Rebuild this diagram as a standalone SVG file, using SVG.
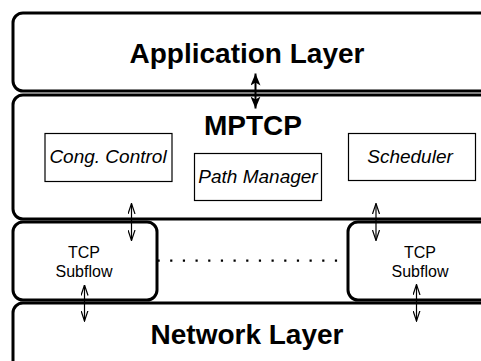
<svg xmlns="http://www.w3.org/2000/svg" width="481" height="361" viewBox="0 0 481 361">
<style>
.layer{fill:#fff;stroke:#000;stroke-width:3}
.mod{fill:#fff;stroke:#000;stroke-width:1.2}
.big{font-family:"Liberation Sans",Arial,sans-serif;font-weight:bold;font-size:28px;fill:#000;text-anchor:middle}
.it{font-family:"Liberation Sans",Arial,sans-serif;font-style:italic;font-size:19px;fill:#000;text-anchor:middle}
.sm{font-family:"Liberation Sans",Arial,sans-serif;font-size:16px;fill:#000;text-anchor:middle}
.thick{stroke:#000;stroke-width:2;fill:none}
.thin{stroke:#000;stroke-width:1.2;fill:none}
</style>
<defs>
<marker id="fh" viewBox="0 0 12 10" markerWidth="12" markerHeight="10" refX="12" refY="5" orient="auto-start-reverse" markerUnits="userSpaceOnUse">
<path d="M0,0 L12,5 L0,10 L3,5 Z" fill="#000"/>
</marker>
<marker id="oh" viewBox="0 0 11 8" markerWidth="11" markerHeight="8" refX="10.5" refY="4" orient="auto-start-reverse" markerUnits="userSpaceOnUse">
<path d="M0,0.5 L10.5,4 L0,7.5" fill="none" stroke="#000" stroke-width="1.2"/>
</marker>
</defs>
<g id="app-layer">
<rect class="layer" x="13" y="13" width="520" height="78" rx="10"/>
<text class="big" x="247" y="63">Application Layer</text>
</g>
<g id="mptcp">
<rect class="layer" x="13" y="95" width="520" height="124" rx="10"/>
<text class="big" x="253" y="135">MPTCP</text>
</g>
<g id="cong-control">
<rect class="mod" x="45" y="133.5" width="127" height="48"/>
<text class="it" x="108" y="163">Cong. Control</text>
</g>
<g id="path-manager">
<rect class="mod" x="194.5" y="153.5" width="127" height="47"/>
<text class="it" x="258" y="183">Path Manager</text>
</g>
<g id="scheduler">
<rect class="mod" x="348.5" y="133.5" width="127" height="47"/>
<text class="it" x="410" y="163">Scheduler</text>
</g>
<g id="tcp-subflow-1">
<rect class="layer" x="13" y="222" width="144" height="78" rx="10"/>
<text class="sm" x="84" y="258">TCP</text>
<text class="sm" x="84" y="277">Subflow</text>
</g>
<g id="tcp-subflow-2">
<rect class="layer" x="348" y="222" width="200" height="78" rx="10"/>
<text class="sm" x="420" y="258">TCP</text>
<text class="sm" x="420" y="277">Subflow</text>
</g>
<g id="network-layer">
<rect class="layer" x="13" y="303" width="520" height="100" rx="10"/>
<text class="big" x="247" y="344">Network Layer</text>
</g>
<g id="connectors">
<line class="thick" x1="255.5" y1="73.5" x2="255.5" y2="108.5" marker-start="url(#fh)" marker-end="url(#fh)"/>
<line class="thin" x1="131.5" y1="203.5" x2="131.5" y2="240.5" marker-start="url(#oh)" marker-end="url(#oh)"/>
<line class="thin" x1="376" y1="203.5" x2="376" y2="240.5" marker-start="url(#oh)" marker-end="url(#oh)"/>
<line class="thin" x1="84.5" y1="285" x2="84.5" y2="321" marker-start="url(#oh)" marker-end="url(#oh)"/>
<line class="thin" x1="416.5" y1="284.5" x2="416.5" y2="321" marker-start="url(#oh)" marker-end="url(#oh)"/>
<line x1="157.5" y1="260.7" x2="338" y2="260.7" stroke="#000" stroke-width="2.2" stroke-dasharray="2.2 10.47"/>
</g>
</svg>
